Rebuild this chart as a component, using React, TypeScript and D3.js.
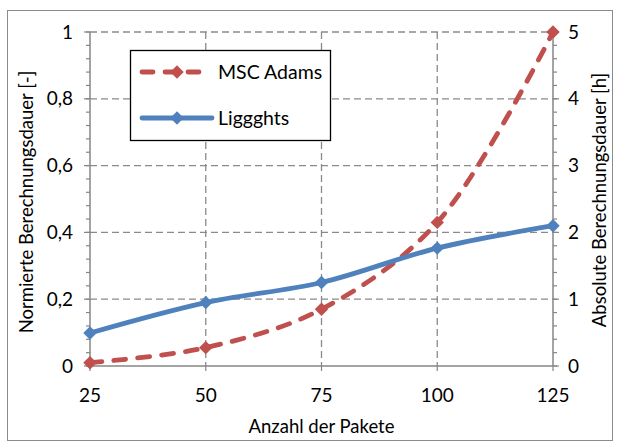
import React, { useEffect, useRef } from 'react';
import * as d3 from 'd3';

const pakete = [25, 50, 75, 100, 125];
const mscAdams = [0.01, 0.055, 0.17, 0.43, 1.0];
const liggghts = [0.099, 0.19, 0.25, 0.353, 0.42];
const leftTicks = [0, 0.2, 0.4, 0.6, 0.8, 1];
const rightTicks = [0, 1, 2, 3, 4, 5];
const seriesNames = ['MSC Adams', 'Liggghts'];

const App = () => {
    const ref = useRef<SVGSVGElement>(null);

    useEffect(() => {
        const svgElement = d3.select(ref.current);
        svgElement.selectAll('*').remove();

        const W = 619, H = 443;
        const margin = { top: 32, right: 66, bottom: 77, left: 90 };
        const width = W - margin.left - margin.right;
        const height = H - margin.top - margin.bottom;
        const font = 'Lato, "Open Sans", sans-serif';
        const axisColor = '#868686';

        svgElement.attr('width', W).attr('height', H);

        // outer frame
        svgElement.append('rect')
            .attr('x', 7.5).attr('y', 10.5)
            .attr('width', 605).attr('height', 430)
            .attr('fill', 'white')
            .attr('stroke', '#8c8c8c')
            .attr('stroke-width', 1);

        const svg = svgElement.append('g')
            .attr('transform', `translate(${margin.left},${margin.top})`);

        const x = d3.scaleLinear().domain([25, 125]).range([0, width]);
        const y = d3.scaleLinear().domain([0, 1]).range([height, 0]);
        const y2 = d3.scaleLinear().domain([0, 5]).range([height, 0]);

        // gridlines
        svg.selectAll('.hgrid')
            .data(leftTicks.slice(1))
            .enter().append('line')
            .attr('x1', 0).attr('x2', width)
            .attr('y1', d => y(d)).attr('y2', d => y(d))
            .attr('stroke', '#8a8a8a')
            .attr('stroke-width', 1.3)
            .attr('stroke-dasharray', '7,4');

        svg.selectAll('.vgrid')
            .data(pakete.slice(1, -1))
            .enter().append('line')
            .attr('x1', d => x(d)).attr('x2', d => x(d))
            .attr('y1', 0).attr('y2', height)
            .attr('stroke', '#8a8a8a')
            .attr('stroke-width', 1.3)
            .attr('stroke-dasharray', '7,4');

        // left axis
        const left = svg.append('g');
        left.append('line')
            .attr('x1', 0).attr('x2', 0).attr('y1', 0).attr('y2', height)
            .attr('stroke', axisColor).attr('stroke-width', 1.5);
        left.selectAll('.minor')
            .data(d3.range(0, 26).map(i => i * 0.04))
            .enter().append('line')
            .attr('x1', -4).attr('x2', 0)
            .attr('y1', d => y(d)).attr('y2', d => y(d))
            .attr('stroke', axisColor).attr('stroke-width', 1.2);
        left.selectAll('.major')
            .data(leftTicks)
            .enter().append('line')
            .attr('x1', -6).attr('x2', 0)
            .attr('y1', d => y(d)).attr('y2', d => y(d))
            .attr('stroke', axisColor).attr('stroke-width', 1.2);
        left.selectAll('text')
            .data(leftTicks)
            .enter().append('text')
            .attr('x', -17)
            .attr('y', d => y(d))
            .attr('dy', '0.35em')
            .attr('text-anchor', 'end')
            .attr('font-family', font)
            .attr('font-size', 19)
            .attr('fill', '#000')
            .text(d => d3.format('.1~f')(d).replace('.', ','));

        // right axis
        const right = svg.append('g').attr('transform', `translate(${width},0)`);
        right.append('line')
            .attr('x1', 0).attr('x2', 0).attr('y1', 0).attr('y2', height)
            .attr('stroke', axisColor).attr('stroke-width', 1.5);
        right.selectAll('.minor')
            .data(d3.range(0, 26).map(i => i * 0.2))
            .enter().append('line')
            .attr('x1', 0).attr('x2', 4)
            .attr('y1', d => y2(d)).attr('y2', d => y2(d))
            .attr('stroke', axisColor).attr('stroke-width', 1.2);
        right.selectAll('.major')
            .data(rightTicks)
            .enter().append('line')
            .attr('x1', 0).attr('x2', 6)
            .attr('y1', d => y2(d)).attr('y2', d => y2(d))
            .attr('stroke', axisColor).attr('stroke-width', 1.2);
        right.selectAll('text')
            .data(rightTicks)
            .enter().append('text')
            .attr('x', 15)
            .attr('y', d => y2(d))
            .attr('dy', '0.35em')
            .attr('text-anchor', 'start')
            .attr('font-family', font)
            .attr('font-size', 19)
            .attr('fill', '#000')
            .text(d => d);

        // bottom axis
        const bottom = svg.append('g').attr('transform', `translate(0,${height})`);
        bottom.append('line')
            .attr('x1', 0).attr('x2', width)
            .attr('stroke', axisColor).attr('stroke-width', 1.5);
        bottom.selectAll('.tick')
            .data(pakete)
            .enter().append('line')
            .attr('x1', d => x(d)).attr('x2', d => x(d))
            .attr('y1', 0).attr('y2', 5)
            .attr('stroke', axisColor).attr('stroke-width', 1.2);
        bottom.selectAll('text')
            .data(pakete)
            .enter().append('text')
            .attr('x', d => x(d))
            .attr('y', 29)
            .attr('dy', '0.35em')
            .attr('text-anchor', 'middle')
            .attr('font-family', font)
            .attr('font-size', 19)
            .attr('fill', '#000')
            .text(d => d);

        // axis titles
        svg.append('text')
            .attr('x', width / 2)
            .attr('y', height + 61)
            .attr('dy', '0.35em')
            .attr('text-anchor', 'middle')
            .attr('font-family', font)
            .attr('font-size', 18.5)
            .text('Anzahl der Pakete');

        svg.append('text')
            .attr('transform', `translate(${-63},${height / 2 + 3}) rotate(-90)`)
            .attr('dy', '0.35em')
            .attr('text-anchor', 'middle')
            .attr('font-family', font)
            .attr('font-size', 18.5)
            .text('Normierte Berechnungsdauer [-]');

        svg.append('text')
            .attr('transform', `translate(${width + 47},${height / 2 + 1}) rotate(-90)`)
            .attr('dy', '0.35em')
            .attr('text-anchor', 'middle')
            .attr('font-family', font)
            .attr('font-size', 18.5)
            .text('Absolute Berechnungsdauer [h]');

        // series
        const series = [
            { name: seriesNames[0], values: mscAdams, color: '#C0504D', dash: '12,12' },
            { name: seriesNames[1], values: liggghts, color: '#4F81BD', dash: null }
        ];

        const line = d3.line<number>()
            .x((d, i) => x(pakete[i]))
            .y(d => y(d))
            .curve(d3.curveCatmullRom.alpha(0.5));

        const diamond = d3.symbol().type(d3.symbolDiamond2).size(115);

        series.forEach(s => {
            svg.append('path')
                .datum(s.values)
                .attr('d', line)
                .attr('fill', 'none')
                .attr('stroke', s.color)
                .attr('stroke-width', 4.8)
                .attr('stroke-dasharray', s.dash)
                .attr('stroke-linecap', s.dash ? 'round' : 'butt');

            svg.selectAll(null)
                .data(s.values)
                .enter().append('path')
                .attr('d', diamond)
                .attr('transform', (d, i) => `translate(${x(pakete[i])},${y(d)})`)
                .attr('fill', s.color);
        });

        // legend
        const legend = svgElement.append('g').attr('transform', 'translate(130,50)');
        legend.append('rect')
            .attr('x', 0.5).attr('y', 0.5)
            .attr('width', 200).attr('height', 90)
            .attr('fill', 'white')
            .attr('stroke', '#000')
            .attr('stroke-width', 1.3);

        series.forEach((s, i) => {
            const ly = 22 + i * 46;
            legend.append('line')
                .attr('x1', 12).attr('x2', s.dash ? 74 : 82)
                .attr('y1', ly).attr('y2', ly)
                .attr('stroke', s.color)
                .attr('stroke-width', 4.8)
                .attr('stroke-dasharray', s.dash ? '11,12' : null)
                .attr('stroke-linecap', 'round');
            legend.append('path')
                .attr('d', diamond)
                .attr('transform', `translate(47,${ly})`)
                .attr('fill', s.color);
            legend.append('text')
                .attr('x', 88)
                .attr('y', ly)
                .attr('dy', '0.35em')
                .attr('font-family', font)
                .attr('font-size', 19.5)
                .attr('fill', '#000')
                .text(s.name);
        });
    }, []);

    return (
        <svg ref={ref} style={{ position: 'absolute', left: 0, top: 0 }} />
    );
};

export default App;
